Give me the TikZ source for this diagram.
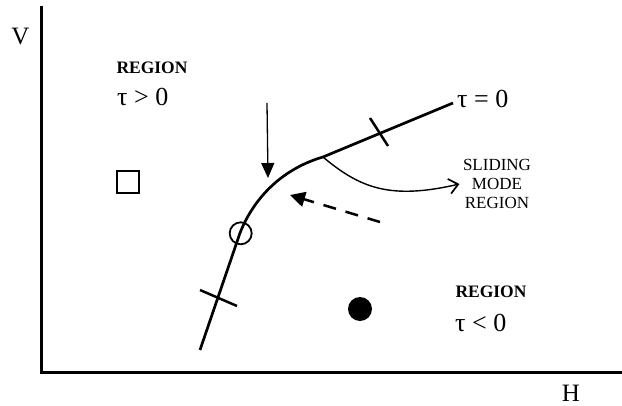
\documentclass[tikz,border=0pt]{standalone}
\usepackage{fontspec}
\setmainfont{Liberation Serif}
\usetikzlibrary{arrows.meta}

\begin{document}
\begin{tikzpicture}[x=1pt,y=-1pt,
  lbl/.style={font=\fontsize{25}{28}\selectfont},
  regionlbl/.style={font=\fontsize{17.5}{19}\selectfont\bfseries},
  condlbl/.style={font=\fontsize{26}{30}\selectfont,anchor=west,inner sep=0pt}]
  \useasboundingbox (0,0) rectangle (622,406);
  % axes
  \draw[line width=3pt] (41.5,6) -- (41.5,373) -- (622,373);
  \node[lbl] (vlabel) at (20.5,37) {V};
  \node[lbl] (hlabel) at (571,393) {H};
  % switching line
  \coordinate (c0) at (200,350);
  \coordinate (c1) at (240,233);
  \coordinate (kink) at (323,157);
  \coordinate (c2) at (453,103);
  \draw[line width=2.7pt] (c0) -- (c1) .. controls (255,195) and (285,168) .. (kink) -- (c2);
  \draw[line width=2.5pt] (200,290) -- (237,306);
  \draw[line width=2.5pt] (370,118) -- (388,146);
  \draw[line width=1.8pt] (240.7,233.3) circle (11);
  % states
  \draw[line width=2.3pt] (117,171) rectangle (139,193);
  \fill (360,309) circle (12);
  % labels
  \node[regionlbl] (regA) at (152,68) {REGION};
  \node[condlbl] (condA) at (117,97) {τ > 0};
  \node[regionlbl] (regB) at (491,292) {REGION};
  \node[condlbl] (condB) at (455,323) {τ < 0};
  \node[condlbl] (condZ) at (457,99) {τ = 0};
  \node[align=center,font=\fontsize{17}{19}\selectfont] (slide) at (497,184) {SLIDING\\MODE\\REGION};
  % arrows
  \coordinate (a0) at (267,103);
  \coordinate (a1) at (268,178);
  \draw[line width=1.3pt,-{Triangle[length=15pt,width=13pt]}] (a0) -- (a1);
  \draw[line width=1.4pt,-{Straight Barb[length=9pt,width=15pt,line width=1.7pt]}] (kink) .. controls (360,188) and (390,200) .. (slide.west);
  \coordinate (d0) at (380,222);
  \coordinate (d1) at (290,195);
  \draw[line width=2.5pt,dash pattern=on 13pt off 10pt,-{Triangle[length=15pt,width=15pt]}] (d0) -- (d1);
\end{tikzpicture}
\end{document}
